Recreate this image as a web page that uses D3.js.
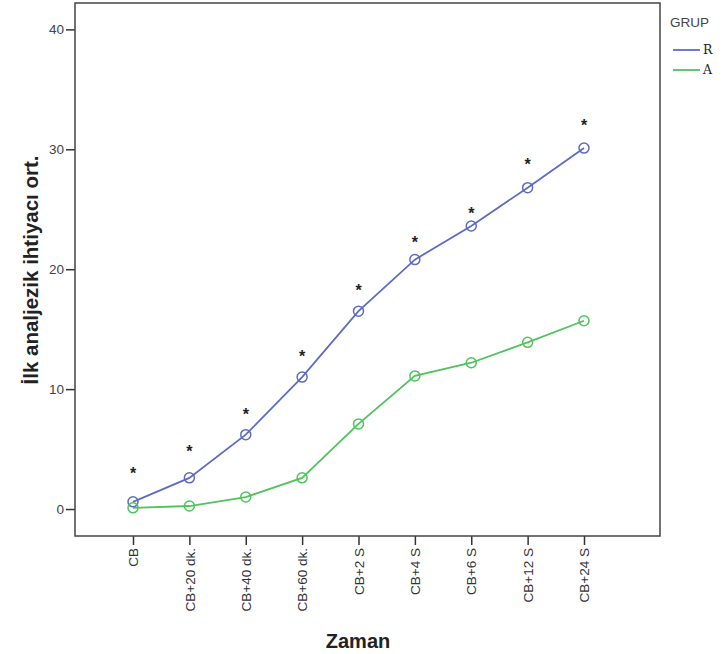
<!DOCTYPE html>
<html>
<head>
<meta charset="utf-8">
<script src="https://cdn.jsdelivr.net/npm/d3@7"></script>
<style>
  body { margin: 0; background: #fff; }
  svg { font-family: Arial, "Liberation Sans", sans-serif; }
</style>
</head>
<body>
<svg id="chart" width="725" height="654"></svg>
<script>
// categories and series
const zaman = ["CB", "CB+20 dk.", "CB+40 dk.", "CB+60 dk.", "CB+2 S", "CB+4 S", "CB+6 S", "CB+12 S", "CB+24 S"];
const grupR = [0.6, 2.6, 6.2, 11.0, 16.5, 20.8, 23.6, 26.8, 30.1];
const grupA = [0.1, 0.25, 1.0, 2.6, 7.1, 11.1, 12.2, 13.9, 15.7];
// significance stars (y value where the * sits)
const starY = [3.5, 5.3, 8.4, 13.3, 18.8, 22.8, 25.2, 29.3, 32.5];
const yTicks = [0, 10, 20, 30, 40];

const svg = d3.select("#chart");

const frame = { left: 75, right: 660, top: 3, bottom: 536 };

const x = d3.scalePoint()
    .domain(zaman)
    .range([133, 584]);

const y = d3.scaleLinear()
    .domain([-2.25, 42.2])
    .range([frame.bottom, frame.top]);

const series = [
    { name: "R", values: grupR, color: "#5d6cc2" },
    { name: "A", values: grupA, color: "#4fc45c" }
];

// Axes
const yAxis = svg.append("g")
    .attr("transform", `translate(${frame.left},0)`)
    .call(d3.axisLeft(y).tickValues(yTicks).tickSize(9).tickPadding(2));
yAxis.select(".domain").remove();
yAxis.selectAll("line").attr("stroke", "#333").attr("stroke-width", 1.5);
yAxis.selectAll("text").attr("font-size", 13.5).attr("fill", "#444")
    .attr("font-family", "Arial, 'Liberation Sans', sans-serif");

const xAxis = svg.append("g")
    .attr("transform", `translate(0,${frame.bottom})`)
    .call(d3.axisBottom(x).tickSize(9).tickPadding(3));
xAxis.select(".domain").remove();
xAxis.selectAll("line").attr("stroke", "#333").attr("stroke-width", 1.5);
xAxis.selectAll("text")
    .attr("font-size", 13.5).attr("fill", "#333")
    .attr("font-family", "Arial, 'Liberation Sans', sans-serif")
    .attr("transform", "rotate(-90)")
    .attr("text-anchor", "end")
    .attr("x", -12).attr("y", 0).attr("dy", "0.35em");

// Plot frame
svg.append("rect")
    .attr("x", frame.left).attr("y", frame.top)
    .attr("width", frame.right - frame.left)
    .attr("height", frame.bottom - frame.top)
    .attr("fill", "none")
    .attr("stroke", "#444")
    .attr("stroke-width", 1.5);

// Lines and circle markers
const line = d3.line()
    .x((d, i) => x(zaman[i]))
    .y(d => y(d));

series.forEach(s => {
    svg.append("path")
        .datum(s.values)
        .attr("d", line)
        .attr("fill", "none")
        .attr("stroke", s.color)
        .attr("stroke-width", 1.8);

    svg.append("g").selectAll("circle")
        .data(s.values)
        .enter().append("circle")
        .attr("cx", (d, i) => x(zaman[i]))
        .attr("cy", d => y(d))
        .attr("r", 5)
        .attr("fill", "none")
        .attr("stroke", s.color)
        .attr("stroke-width", 1.5);
});

// Stars
svg.append("g").selectAll("text")
    .data(starY)
    .enter().append("text")
    .attr("x", (d, i) => x(zaman[i]))
    .attr("y", d => y(d))
    .attr("dy", "0.75em")
    .attr("text-anchor", "middle")
    .attr("font-size", 16)
    .attr("font-weight", "bold")
    .attr("fill", "#222")
    .text("*");

// Axis titles
svg.append("text")
    .attr("transform", "translate(38,270) rotate(-90)")
    .attr("text-anchor", "middle")
    .attr("font-size", 20.5)
    .attr("font-weight", "bold")
    .attr("fill", "#222")
    .text("İlk analjezik ihtiyacı ort.");

svg.append("text")
    .attr("x", 358)
    .attr("y", 648)
    .attr("text-anchor", "middle")
    .attr("font-size", 20)
    .attr("font-weight", "bold")
    .attr("fill", "#222")
    .text("Zaman");

// Legend
const legend = svg.append("g").attr("transform", "translate(670,0)");
legend.append("text")
    .attr("x", 0).attr("y", 27)
    .attr("font-size", 13.5)
    .attr("fill", "#444")
    .text("GRUP");

const items = legend.selectAll(".legends").data(series)
    .enter().append("g")
    .classed("legends", true)
    .attr("transform", (d, i) => `translate(0,${50 + i * 20})`);
items.append("line")
    .attr("x1", 3).attr("x2", 30)
    .attr("y1", 0).attr("y2", 0)
    .attr("stroke", d => d.color)
    .attr("stroke-width", 1.8);
items.append("text")
    .attr("x", 33).attr("y", 0)
    .attr("dy", "0.35em")
    .attr("font-size", 12.5)
    .attr("font-family", "'DejaVu Serif', 'Liberation Serif', serif")
    .attr("fill", "#222")
    .text(d => d.name);
</script>
</body>
</html>
